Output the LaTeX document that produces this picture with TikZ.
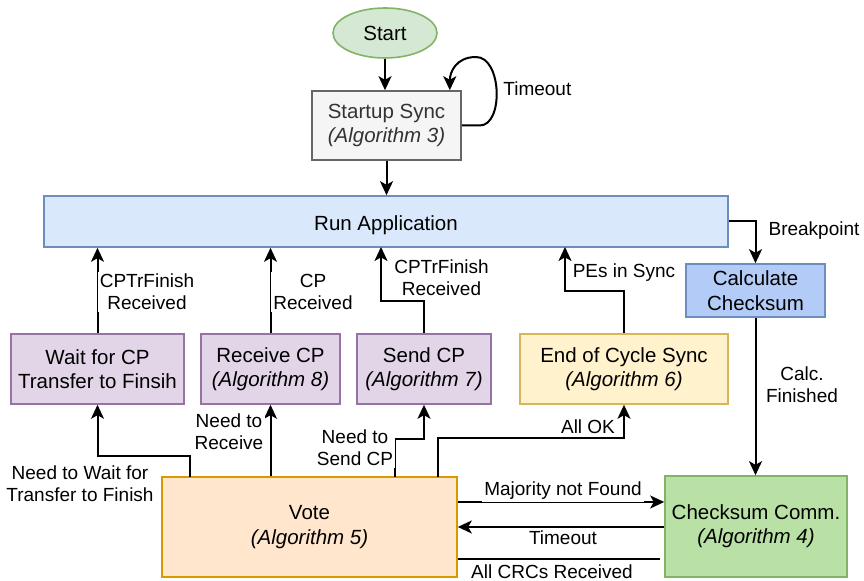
\documentclass[tikz,border=0pt]{standalone}
\usepackage{fontspec}
\setmainfont{Liberation Sans}
\usetikzlibrary{arrows.meta,calc,shapes.geometric}

\definecolor{greenfill}{HTML}{D5E8D4}
\definecolor{greenline}{HTML}{82B366}
\definecolor{greenstrong}{HTML}{B9E0A5}
\definecolor{grayfill}{HTML}{F5F5F5}
\definecolor{grayline}{HTML}{666666}
\definecolor{graytext}{HTML}{333333}
\definecolor{bluefill}{HTML}{DAE8FC}
\definecolor{blueline}{HTML}{6C8EBF}
\definecolor{bluestrong}{HTML}{B3CBF7}
\definecolor{purplefill}{HTML}{E1D5E7}
\definecolor{purpleline}{HTML}{9673A6}
\definecolor{yellowfill}{HTML}{FFF2CC}
\definecolor{yellowline}{HTML}{D6B656}
\definecolor{orangefill}{HTML}{FFE6CC}
\definecolor{orangeline}{HTML}{D79B00}

\tikzset{
  boxtext/.style={draw, line width=0.8pt, align=center, inner sep=0pt,
    font=\fontsize{10.25}{12.2}\selectfont},
  box/.style={boxtext, execute at begin node={\rule{0pt}{10.8pt}}},
  lbl/.style={font=\fontsize{9.5}{11}\selectfont, align=center,
    fill=white, inner sep=1pt},
  arr/.style={line width=1pt, -{Stealth[length=7pt,width=6.5pt,inset=1.8pt]}},
  plain/.style={line width=1pt}
}

\begin{document}
\begin{tikzpicture}[x=0.5pt,y=-0.5pt]
\useasboundingbox (0,0) rectangle (864,581);

% states
\node[boxtext, ellipse, fill=greenfill, draw=greenline, minimum width=52pt, minimum height=25pt]
  (start) at (385,33) {Start};
\node[box, fill=grayfill, draw=grayline, text=graytext, minimum width=74.5pt, minimum height=34.5pt]
  (sync) at (386.5,125.5) {Startup Sync\\\textit{(Algorithm 3)}};
\node[box, fill=bluefill, draw=blueline, minimum width=342pt, minimum height=25.5pt]
  (run) at (386,221.5) {Run Application};
\node[box, fill=bluestrong, draw=blueline, minimum width=69.5pt, minimum height=26.5pt]
  (calc) at (755.5,290.5) {Calculate\\Checksum};
\node[box, fill=purplefill, draw=purpleline, minimum width=86.5pt, minimum height=35pt]
  (wait) at (97.5,369) {Wait for CP\\Transfer to Finsih};
\node[box, fill=purplefill, draw=purpleline, minimum width=69.5pt, minimum height=35pt]
  (recv) at (270.5,369) {Receive CP\\\textit{(Algorithm 8)}};
\node[box, fill=purplefill, draw=purpleline, minimum width=67pt, minimum height=35pt]
  (send) at (424,369) {Send CP\\\textit{(Algorithm 7)}};
\node[box, fill=yellowfill, draw=yellowline, minimum width=104pt, minimum height=35pt]
  (eoc) at (624,369) {End of Cycle Sync\\\textit{(Algorithm 6)}};
\node[box, fill=orangefill, draw=orangeline, minimum width=147.5pt, minimum height=50pt]
  (vote) at (309.5,527) {Vote\\\textit{(Algorithm 5)}};
\node[box, fill=greenstrong, draw=greenline, minimum width=91pt, minimum height=50.5pt]
  (cksum) at (756,526.5) {Checksum Comm.\\\textit{(Algorithm 4)}};

% top chain
\draw[arr] (start) -- (start |- sync.north);
\draw[arr] (sync.east) -- ++(18,0)
  .. controls +(24,0) and +(26,0) .. (476,57)
  .. controls +(-20,0) and +(0,-18) .. ($(sync.north east)+(-12,0)$);
\draw[arr] (sync.south) -- (sync.south |- run.north);
\draw[arr] (run.east) -| (calc.north);
\draw[arr] (calc.south) -- (calc.south |- cksum.north);

% returns to the application
\draw[arr] (wait.north) -- (wait.north |- run.south);
\draw[arr] (recv.north) -- (recv.north |- run.south);
\draw[arr] (send.north) -- (424,301) -- (381,301) -- (381,247);
\draw[arr] (eoc.north) -- (624,291) -- (565,291) -- (565,247);

% out of the vote
\draw[arr] (190,477) -- (190,456) -- (97.5,456) -- (wait.south);
\draw[arr] (recv.south |- vote.north) -- (recv.south);
\draw[arr] (395,477) -- (395,439) -- (424,439) -- (send.south);
\draw[arr] (438,477) -- (438,438) -- (624,438) -- (eoc.south);
\draw[arr] (vote.east |- 0,502) -- (cksum.west |- 0,502);
\draw[arr] (cksum.west |- 0,527) -- (vote.east |- 0,527);
\draw[plain] (660,559.5) -- (vote.east |- 0,559.5);

% edge labels
\node[lbl, fill=none, anchor=west] (l1) at (501,89) {Timeout};
\node[lbl] (l2) at (814,231) {Breakpoint};
\node[lbl] (l3) at (802,385) {Calc.\\Finished};
\node[lbl] (l4) at (147,292) {CPTrFinish\\Received};
\node[lbl] (l5) at (313,292) {CP\\Received};
\node[lbl] (l6) at (441.5,278) {CPTrFinish\\Received};
\node[lbl] (l7) at (624,273) {PEs in Sync};
\node[lbl] (l8) at (80,484) {Need to Wait for\\Transfer to Finish};
\node[lbl] (l9) at (229,432) {Need to\\Receive};
\node[lbl] (l10) at (355,448) {Need to\\Send CP};
\node[lbl] (l11) at (588,427) {All OK};
\node[lbl] (l12) at (563,491) {Majority not Found};
\node[lbl] (l13) at (563,538) {Timeout};
\node[lbl] (l14) at (552,572) {All CRCs Received};
\end{tikzpicture}
\end{document}
